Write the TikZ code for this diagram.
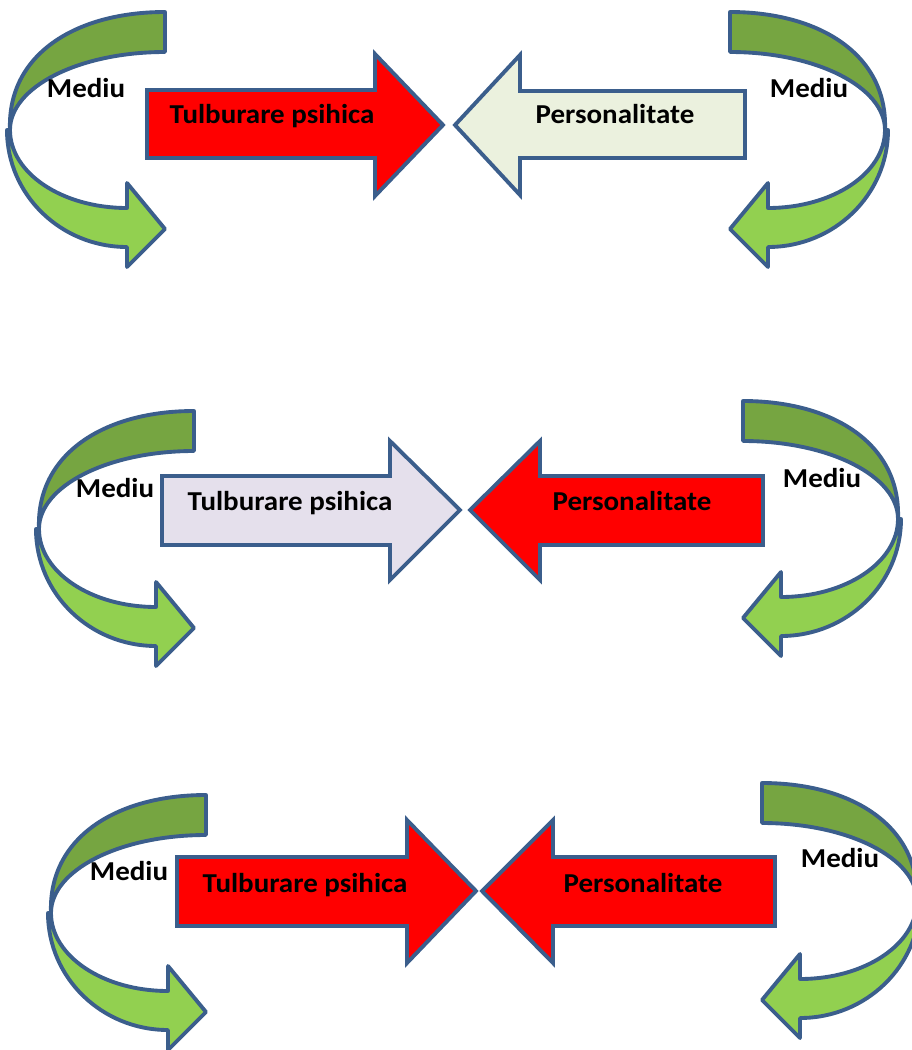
\documentclass[tikz,border=0pt]{standalone}
\usepackage{fontspec}
\newfontfamily\lblfont{Carlito}[FakeStretch=1.06]
\begin{document}
\begin{tikzpicture}[x=0.75pt,y=-0.75pt,
  edge/.style={draw=edgeblue,line width=2.9pt},
  backband/.style={edge,fill=darkgreen,line join=round},
  frontband/.style={edge,fill=lightgreen,line join=round},
  redarrow/.style={edge,fill=red,line join=miter},
  lbl/.style={font=\lblfont\fontsize{20.5}{24}\selectfont\bfseries,anchor=base,inner sep=0pt}]
\definecolor{edgeblue}{HTML}{3B5E8C}
\definecolor{darkgreen}{HTML}{76A541}
\definecolor{lightgreen}{HTML}{92D050}
\definecolor{lavender}{HTML}{E5E0EC}
\definecolor{palegreen}{HTML}{EBF1DE}
\useasboundingbox (0,0) rectangle (911,1050);

% curved arrow that loops round on the left and points right
\newcommand{\loopArrow}{%
  \path[backband] (165,12) -- (165,52)
    .. controls (79,52) and (10,87) .. (10,130)
    .. controls (7,55) and (75,12) .. (165,12) -- cycle;
  \path[frontband] (7,130)
    .. controls (7,195) and (61,247) .. (127,247)
    -- (127,267) -- (165,229) -- (127,183) -- (127,208)
    .. controls (62,208) and (10,173) .. (10,130) -- cycle;}

% loops on the left of each row
\begin{scope}\loopArrow\end{scope}
\begin{scope}[shift={(29,399)}]\loopArrow\end{scope}
\begin{scope}[shift={(41,783)}]\loopArrow\end{scope}
% mirrored loops on the right of each row
\begin{scope}[shift={(895,0)},xscale=-1]\loopArrow\end{scope}
\begin{scope}[shift={(908,389)},xscale=-1]\loopArrow\end{scope}
\begin{scope}[shift={(927,771)},xscale=-1]\loopArrow\end{scope}

% row 1
\path[redarrow] (147,90) -- (375,90) -- (375,54) -- (443,125) -- (375,196) -- (375,158) -- (147,158) -- cycle;
\path[edge,fill=palegreen,line join=miter] (745,91) -- (520,91) -- (520,55) -- (455,125) -- (520,195) -- (520,158) -- (745,158) -- cycle;
\node[lbl] (t1) at (272,123) {Tulburare psihica};
\node[lbl] (p1) at (615,123) {Personalitate};
\node[lbl] (m1l) at (86,97) {Mediu};
\node[lbl] (m1r) at (809,97) {Mediu};

% row 2
\path[edge,fill=lavender,line join=miter] (162,476) -- (390,476) -- (390,441) -- (460,510) -- (390,580) -- (390,545) -- (162,545) -- cycle;
\path[redarrow] (763,476) -- (540,476) -- (540,441) -- (470,510) -- (540,580) -- (540,545) -- (763,545) -- cycle;
\node[lbl] (t2) at (290,510) {Tulburare psihica};
\node[lbl] (p2) at (632,510) {Personalitate};
\node[lbl] (m2l) at (115,497) {Mediu};
\node[lbl] (m2r) at (822,487) {Mediu};

% row 3
\path[redarrow] (177,857) -- (407,857) -- (407,820) -- (476,891) -- (407,963) -- (407,926) -- (177,926) -- cycle;
\path[redarrow] (775,857) -- (553,857) -- (553,820) -- (482,891) -- (553,963) -- (553,926) -- (775,926) -- cycle;
\node[lbl] (t3) at (305,892) {Tulburare psihica};
\node[lbl] (p3) at (643,892) {Personalitate};
\node[lbl] (m3l) at (129,880) {Mediu};
\node[lbl] (m3r) at (840,867) {Mediu};
\end{tikzpicture}
\end{document}
